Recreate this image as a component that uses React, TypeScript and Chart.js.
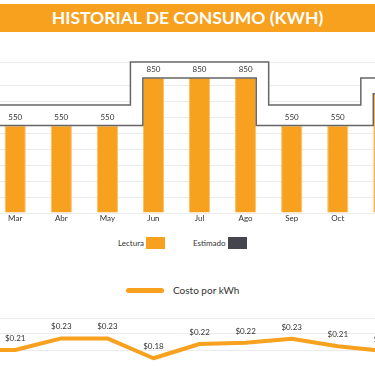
import React, { useEffect, useRef } from "react";
import { Chart, registerables } from "chart.js";
Chart.register(...registerables);

const months = ["Ene", "Feb", "Mar", "Abr", "May", "Jun", "Jul", "Ago", "Sep", "Oct", "Nov", "Dic"];
const lectura = [550, 550, 550, 550, 550, 850, 850, 850, 550, 550, 750, 750];
const estimado = [680, 680, 680, 680, 680, 950, 950, 950, 680, 680, 850, 850];
const costo = [0.21, 0.2055, 0.2055, 0.2345, 0.2345, 0.1849, 0.2205, 0.2235, 0.2338, 0.2149, 0.203, 0.205];

const ORANGE = "#F7A11F";
const GRAY_LINE = "#666666";
const BAR_FRAC = 0.46;
const FONT = "Lato, 'Noto Sans', sans-serif";

function edgeStepPoints(vals: number[]) {
  const h = BAR_FRAC / 2;
  const pts: { x: number; y: number }[] = [{ x: -0.5, y: vals[0] }];
  for (let i = 0; i < vals.length - 1; i++) {
    const a = vals[i], b = vals[i + 1];
    if (a === b) continue;
    const sx = b > a ? i + 1 - h : i + h;
    pts.push({ x: sx, y: a }, { x: sx, y: b });
  }
  pts.push({ x: vals.length - 0.5, y: vals[vals.length - 1] });
  return pts;
}

function midStepPoints(vals: number[]) {
  const pts: { x: number; y: number }[] = [{ x: -0.5, y: vals[0] }];
  for (let i = 0; i < vals.length - 1; i++) {
    const a = vals[i], b = vals[i + 1];
    if (a === b) continue;
    const sx = i + 0.5;
    pts.push({ x: sx, y: a }, { x: sx, y: b });
  }
  pts.push({ x: vals.length - 0.5, y: vals[vals.length - 1] });
  return pts;
}

const barLabels = {
  id: "barLabels",
  afterDatasetsDraw(chart: any) {
    const ctx = chart.ctx;
    const meta = chart.getDatasetMeta(0);
    ctx.save();
    ctx.font = `8px ${FONT}`;
    ctx.fillStyle = "#333";
    ctx.textAlign = "center";
    ctx.textBaseline = "middle";
    meta.data.forEach((el: any, i: number) => {
      ctx.fillText(String(lectura[i]), el.x, el.y - 8);
    });
    ctx.restore();
  },
};

const lineLabels = {
  id: "lineLabels",
  afterDatasetsDraw(chart: any) {
    const ctx = chart.ctx;
    const meta = chart.getDatasetMeta(0);
    ctx.save();
    ctx.font = `8px ${FONT}`;
    ctx.fillStyle = "#333";
    ctx.textAlign = "center";
    ctx.textBaseline = "middle";
    meta.data.forEach((el: any, i: number) => {
      ctx.fillText("$" + costo[i].toFixed(2), el.x, el.y - 11.5);
    });
    ctx.restore();
  },
};

function BarChart() {
  const ref = useRef<HTMLCanvasElement>(null);
  useEffect(() => {
    const chart = new Chart(ref.current!, {
      type: "bar",
      data: {
        labels: months,
        datasets: [
          {
            label: "Lectura",
            data: lectura,
            backgroundColor: ORANGE,
            borderColor: "#FBC06A",
            borderWidth: 1,
            barPercentage: 1,
            categoryPercentage: BAR_FRAC,
            grouped: false,
            order: 3,
          } as any,
          {
            type: "line",
            label: "Estimado",
            data: midStepPoints(estimado),
            xAxisID: "xl",
            borderColor: GRAY_LINE,
            borderWidth: 1.5,
            pointRadius: 0,
            tension: 0,
            fill: 2,
            backgroundColor: "#ffffff",
            clip: false,
            order: 2,
          } as any,
          {
            type: "line",
            label: "LecturaLinea",
            data: edgeStepPoints(lectura),
            xAxisID: "xl",
            borderColor: GRAY_LINE,
            borderWidth: 1.5,
            pointRadius: 0,
            tension: 0,
            fill: false,
            clip: false,
            order: 1,
          } as any,
        ],
      },
      options: {
        responsive: false,
        animation: false,
        layout: { padding: { top: 12, left: 0, right: 0, bottom: 0 } },
        plugins: { legend: { display: false }, tooltip: { enabled: false } },
        scales: {
          x: {
            type: "category",
            offset: true,
            grid: { display: false, drawTicks: false, tickLength: 0 },
            border: { display: false },
            ticks: { font: { family: FONT, size: 8 }, color: "#333", padding: 1, maxRotation: 0, autoSkip: false },
            afterFit: (s: any) => { s.height = 12; },
          },
          xl: {
            type: "linear",
            display: false,
            offset: false,
            grid: { offset: false },
            min: -0.5,
            max: months.length - 0.5,
          },
          y: {
            min: 0,
            max: 950,
            ticks: { display: false, stepSize: 100 },
            grid: { color: "#EBEBEB", drawTicks: false, tickLength: 0 },
            border: { display: false },
            afterFit: (s: any) => { s.width = 0; },
          },
        },
      } as any,
      plugins: [barLabels],
    });
    return () => chart.destroy();
  }, []);
  return (
    <canvas
      ref={ref}
      width={553}
      height={175}
      style={{ position: "absolute", left: -100, top: 50, width: 553, height: 175 }}
    />
  );
}

function LineChart() {
  const ref = useRef<HTMLCanvasElement>(null);
  useEffect(() => {
    const chart = new Chart(ref.current!, {
      type: "line",
      data: {
        labels: months,
        datasets: [
          {
            label: "Costo por kWh",
            data: costo,
            borderColor: ORANGE,
            borderWidth: 4,
            pointRadius: 0,
            tension: 0,
            borderJoinStyle: "round",
            borderCapStyle: "round",
            fill: false,
          } as any,
        ],
      },
      options: {
        responsive: false,
        animation: false,
        layout: { padding: { top: 8, left: 0, right: 0, bottom: 0 } },
        plugins: { legend: { display: false }, tooltip: { enabled: false } },
        scales: {
          x: {
            type: "category",
            offset: true,
            grid: { display: false, drawTicks: false, tickLength: 0 },
            border: { display: false },
            ticks: { display: false },
            afterFit: (s: any) => { s.height = 0; },
          },
          y: {
            min: 0.1255,
            max: 0.2855,
            ticks: { display: false, count: 5 },
            grid: { color: "#EBEBEB", drawTicks: false, tickLength: 0 },
            border: { display: false },
            afterFit: (s: any) => { s.width = 0; },
          },
        },
      } as any,
      plugins: [lineLabels],
    });
    return () => chart.destroy();
  }, []);
  return (
    <canvas
      ref={ref}
      width={553}
      height={72}
      style={{ position: "absolute", left: -100, top: 310, width: 553, height: 72 }}
    />
  );
}

export default function App() {
  const textStyle: React.CSSProperties = {
    position: "absolute",
    fontFamily: FONT,
    color: "#333",
    whiteSpace: "nowrap",
  };
  return (
    <div
      style={{
        position: "fixed",
        left: 0,
        top: 0,
        width: 375,
        height: 366,
        overflow: "hidden",
        background: "#ffffff",
        fontFamily: FONT,
      }}
    >
      <div
        style={{
          position: "absolute",
          left: 0,
          top: 4,
          width: 375,
          height: 28,
          background: ORANGE,
          color: "#fff",
          fontWeight: 700,
          fontSize: 17.5,
          lineHeight: "28px",
          textAlign: "center",
          fontFamily: FONT,
        }}
      >
        HISTORIAL DE CONSUMO (KWH)
      </div>
      <BarChart />
      <div style={{ ...textStyle, left: 118, top: 237, fontSize: 8, lineHeight: "12px" }}>Lectura</div>
      <div style={{ position: "absolute", left: 146, top: 237, width: 19, height: 12, background: ORANGE }} />
      <div style={{ ...textStyle, left: 193, top: 237, fontSize: 8, lineHeight: "12px" }}>Estimado</div>
      <div style={{ position: "absolute", left: 228, top: 237, width: 19, height: 12, background: "#45454D" }} />
      <div
        style={{
          position: "absolute",
          left: 126,
          top: 288,
          width: 38,
          height: 4.5,
          borderRadius: 3,
          background: ORANGE,
        }}
      />
      <div style={{ ...textStyle, left: 173, top: 283, fontSize: 10, lineHeight: "14px" }}>Costo por kWh</div>
      <LineChart />
    </div>
  );
}
